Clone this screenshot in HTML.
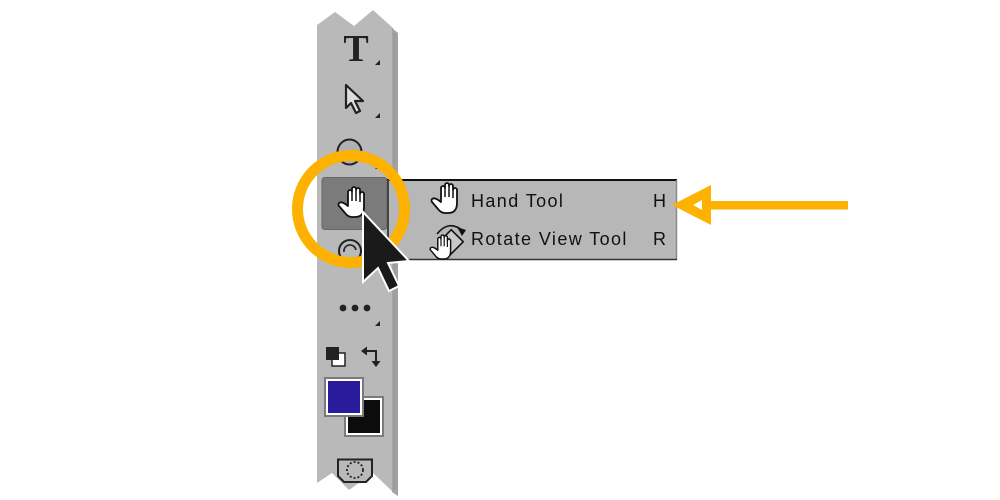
<!DOCTYPE html>
<html><head><meta charset="utf-8"><style>
html,body{margin:0;padding:0;background:#fff;}
svg{display:block;}
</style></head><body>
<svg width="1000" height="500" viewBox="0 0 1000 500" xmlns="http://www.w3.org/2000/svg">
<defs>
<g id="hand">
  <path d="M11,17 L11,5 A2,2 0 0 1 15,5 L15,2 A2,2 0 0 1 19,2 L19,3 A2,2 0 0 1 23,3 L23,7 A2,2 0 0 1 27,7 L27,20 Q27,30 18,30 L15,30 Q11,30 8,26 L2,19 Q0.5,16.5 3,15.5 Q5.5,14.5 11,19 Z" fill="#fff" stroke="#111" stroke-width="1.8" stroke-linejoin="round"/>
  <path d="M15,5 L15,14 M19,3 L19,14 M23,7 L23,15" fill="none" stroke="#111" stroke-width="1.5"/>
</g>
</defs>

<!-- toolbar strip -->
<polygon points="317,25 335,12 354,26 373,10 393,28 393,492 373,473 349,490 332,473 317,483" fill="#b9b9b9"/>
<polygon points="392,28 398,33 398,496 392,492" fill="#a3a3a3"/>
<line x1="394.5" y1="34" x2="394.5" y2="490" stroke="#8c8c8c" stroke-width="1" stroke-dasharray="1,1"/>
<line x1="397" y1="36" x2="397" y2="493" stroke="#999" stroke-width="1" stroke-dasharray="1,2"/>

<!-- T tool -->
<text x="356" y="61" style="font-family:'Liberation Serif','DejaVu Serif',serif;font-size:38px;font-weight:bold" text-anchor="middle" fill="#222">T</text>
<polygon points="380,60 380,65 375,65" fill="#222"/>

<!-- select arrow -->
<path d="M346,85 L346,108 L351,103 L356,113 L360,111 L355,101 L363,101 Z" fill="#ddd" stroke="#222" stroke-width="2.2" stroke-linejoin="round"/>
<polygon points="380,113 380,118 375,118" fill="#222"/>

<!-- ellipse -->
<ellipse cx="349.5" cy="152" rx="12" ry="12.5" fill="#b1b1b1" stroke="#222" stroke-width="2"/>
<polygon points="380,164 380,169 375,169" fill="#222"/>

<!-- hand button -->
<rect x="322" y="177.5" width="65" height="52" rx="3" fill="#7b7b7b" stroke="#666" stroke-width="1"/>
<use href="#hand" transform="translate(337,187)"/>

<!-- circle below -->
<circle cx="350" cy="251" r="11" fill="#b9b9b9" stroke="#222" stroke-width="2"/>
<path d="M344,252 A6,6 0 0 1 356,250" fill="none" stroke="#222" stroke-width="1.6"/>

<!-- dots -->
<circle cx="343" cy="308" r="3.4" fill="#222"/>
<circle cx="355" cy="308" r="3.4" fill="#222"/>
<circle cx="367" cy="308" r="3.4" fill="#222"/>
<polygon points="380,321 380,326 375,326" fill="#222"/>

<!-- default colors -->
<rect x="332" y="353" width="13" height="13" fill="#fff" stroke="#222" stroke-width="1.5"/>
<rect x="326" y="347" width="13" height="13" fill="#222"/>
<!-- swap -->
<path d="M366,351 L376,351 L376,362" fill="none" stroke="#222" stroke-width="2"/>
<polygon points="361,351 367,346.5 367,355.5" fill="#222"/>
<polygon points="376,367 371.5,361 380.5,361" fill="#222"/>

<!-- bg color -->
<rect x="345" y="397" width="38" height="39" fill="#fff" stroke="#7a7a7a" stroke-width="2"/>
<rect x="348" y="400" width="32" height="33" fill="#0c0c0c"/>
<!-- fg color -->
<rect x="325" y="378" width="38" height="38" fill="#fff" stroke="#7a7a7a" stroke-width="2"/>
<rect x="328" y="381" width="32" height="32" fill="#2a1a9c"/>

<!-- quick mask -->
<path d="M338,459.5 L372,459.5 L372,476 L366,482 L344,482 L338,476 Z" fill="#b9b9b9" stroke="#222" stroke-width="2"/>
<circle cx="355" cy="470" r="8" fill="none" stroke="#222" stroke-width="1.8" stroke-dasharray="2,2"/>

<!-- popup menu -->
<rect x="387" y="179" width="290" height="81" fill="#b7b7b7"/>
<line x1="387" y1="180" x2="677" y2="180" stroke="#111" stroke-width="2"/>
<line x1="676.5" y1="180" x2="676.5" y2="260" stroke="#8a8a8a" stroke-width="1.5"/>
<line x1="387" y1="259.5" x2="677" y2="259.5" stroke="#333" stroke-width="1.5"/>
<line x1="388" y1="180" x2="388" y2="260" stroke="#444" stroke-width="2"/>

<use href="#hand" transform="translate(430,183)"/>
<text x="471" y="207" style="font-family:'Liberation Sans',Arial,sans-serif;font-size:18px;letter-spacing:1.4px" fill="#111">Hand Tool</text>
<text x="653" y="207" style="font-family:'Liberation Sans',Arial,sans-serif;font-size:18px" fill="#111">H</text>

<!-- rotate view icon -->
<path d="M437,234 Q449,219 463,231" fill="none" stroke="#111" stroke-width="1.6"/>
<polygon points="466,230 457,227 462,236" fill="#111"/>
<rect x="442" y="233" width="17" height="19" transform="rotate(45 450.5 242.5)" fill="#c9c9c9" stroke="#111" stroke-width="1.6"/>
<use href="#hand" transform="translate(429,235) scale(0.8)"/>
<text x="471" y="245" style="font-family:'Liberation Sans',Arial,sans-serif;font-size:18px;letter-spacing:1.4px" fill="#111">Rotate View Tool</text>
<text x="653" y="245" style="font-family:'Liberation Sans',Arial,sans-serif;font-size:18px" fill="#111">R</text>

<!-- orange circle -->
<circle cx="351" cy="209" r="53.5" fill="none" stroke="#FDB100" stroke-width="11"/>

<!-- cursor -->
<path d="M363,212 L363,282 L378,268 L389,291 L399,286 L388,263 L409,261 Z" fill="#1a1a1a" stroke="#fff" stroke-width="2" stroke-linejoin="miter"/>

<!-- orange arrow -->
<rect x="704" y="201" width="144" height="8.5" fill="#FDB100"/>
<polygon points="672,205 711,185 711,225" fill="#FDB100"/>
<polygon points="693,205 702,200 702,210" fill="#fff"/>
</svg>
</body></html>
